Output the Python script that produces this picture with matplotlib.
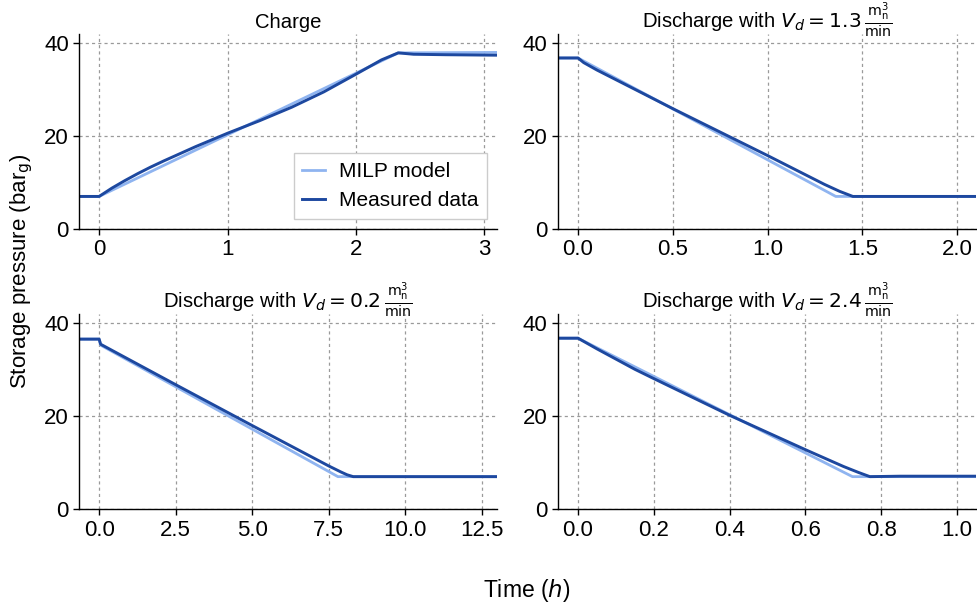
import matplotlib
matplotlib.use("Agg")
import matplotlib.pyplot as plt

plt.rcParams["font.family"] = ["Liberation Sans", "DejaVu Sans"]
plt.rcParams["mathtext.fontset"] = "dejavusans"

MODEL_COLOR = "#8fb4f0"
MEAS_COLOR = "#1d489f"

# Charging run
charge_t_model = [-0.155, 0.0, 2.33, 3.1]
charge_p_model = [7.0, 7.0, 37.9, 38.0]
charge_t_meas = [-0.155, 0.0, 0.05, 0.1, 0.2, 0.3, 0.4, 0.5, 0.75, 1.0, 1.25,
                 1.5, 1.75, 2.0, 2.2, 2.33, 2.45, 2.7, 3.1]
charge_p_meas = [7.0, 7.0, 7.9, 8.8, 10.4, 11.9, 13.3, 14.6, 17.7, 20.6, 23.3,
                 26.2, 29.5, 33.3, 36.4, 37.9, 37.6, 37.5, 37.4]

# Discharge, V_d = 1.3
d13_t_model = [-0.105, 0.0, 1.36, 2.1]
d13_p_model = [36.8, 36.8, 7.0, 7.0]
d13_t_meas = [-0.105, 0.0, 0.03, 0.1, 0.5, 1.0, 1.3, 1.38, 1.45, 1.6, 2.1]
d13_p_meas = [36.8, 36.8, 35.8, 34.2, 25.9, 15.8, 9.6, 8.1, 7.0, 7.0, 7.0]

# Discharge, V_d = 0.2
d02_t_model = [-0.65, 0.0, 0.05, 7.8, 13.0]
d02_p_model = [36.6, 36.6, 35.3, 7.0, 7.0]
d02_t_meas = [-0.65, 0.0, 0.05, 2.5, 5.0, 7.5, 7.9, 8.1, 8.3, 9.0, 13.0]
d02_p_meas = [36.6, 36.6, 35.5, 26.8, 18.0, 9.3, 8.0, 7.4, 7.0, 7.0, 7.0]

# Discharge, V_d = 2.4
d24_t_model = [-0.0525, 0.0, 0.724, 1.05]
d24_p_model = [36.8, 36.8, 7.0, 7.0]
d24_t_meas = [-0.0525, 0.0, 0.05, 0.1, 0.15, 0.2, 0.4, 0.6, 0.7, 0.74, 0.77, 0.85, 1.05]
d24_p_meas = [36.8, 36.8, 34.5, 32.3, 30.1, 28.1, 20.2, 12.8, 9.2, 7.9, 7.0, 7.1, 7.1]

unit = r"\frac{\mathrm{m}_\mathrm{n}^3}{\mathrm{min}}"
titles = [
    "Charge",
    r"Discharge with $V_d = 1.3\,%s$" % unit,
    r"Discharge with $V_d = 0.2\,%s$" % unit,
    r"Discharge with $V_d = 2.4\,%s$" % unit,
]
runs = [
    (charge_t_model, charge_p_model, charge_t_meas, charge_p_meas, 3.1, [0, 1, 2, 3]),
    (d13_t_model, d13_p_model, d13_t_meas, d13_p_meas, 2.1, [0.0, 0.5, 1.0, 1.5, 2.0]),
    (d02_t_model, d02_p_model, d02_t_meas, d02_p_meas, 13.0, [0.0, 2.5, 5.0, 7.5, 10.0, 12.5]),
    (d24_t_model, d24_p_model, d24_t_meas, d24_p_meas, 1.05, [0.0, 0.2, 0.4, 0.6, 0.8, 1.0]),
]
tick_fmt = ["%d", "%.1f", "%.1f", "%.1f"]

fig, axes = plt.subplots(2, 2, figsize=(9.78, 6.04), dpi=100)
fig.subplots_adjust(left=0.081, right=0.998, bottom=0.157, top=0.944,
                    wspace=0.146, hspace=0.436)

for ax, title, run, fmt in zip(axes.flat, titles, runs, tick_fmt):
    t_mod, p_mod, t_meas, p_meas, t_end, xt = run
    ax.plot(t_mod, p_mod, color=MODEL_COLOR, lw=2, label="MILP model")
    ax.plot(t_meas, p_meas, color=MEAS_COLOR, lw=2.1, label="Measured data")
    ax.set_xlim(-0.05 * t_end, t_end)
    ax.set_ylim(0, 42)
    ax.set_xticks(xt)
    ax.set_xticklabels([fmt % v for v in xt])
    ax.set_yticks([0, 20, 40])
    if "$" in title:
        # the fraction hangs below the text, let it dip to the frame top
        ax.text(0.5, 1.029, title, transform=ax.transAxes, ha="center",
                va="baseline", fontsize=14.6)
    else:
        ax.set_title(title, fontsize=14.6, pad=4)
    ax.tick_params(labelsize=16, length=4, width=1)
    ax.grid(True, color="#9a9a9a", linestyle=(0, (2.5, 2.5)), linewidth=0.9)
    ax.set_axisbelow(True)
    for side in ("top", "right"):
        ax.spines[side].set_visible(False)
    for side in ("left", "bottom"):
        ax.spines[side].set_linewidth(1.0)

leg = axes[0, 0].legend(loc="lower right", fontsize=15, fancybox=False,
                        edgecolor="#cccccc", framealpha=1,
                        handlelength=1.1, handletextpad=0.65)
leg.get_frame().set_linewidth(1.0)

fig.text(0.022, 0.55, r"Storage pressure (bar$_\mathrm{g}$)", rotation=90,
         ha="center", va="center", fontsize=16)
fig.text(0.539, 0.023, r"Time ($h$)", ha="center", va="center", fontsize=16.5)

fig.savefig("out.png", dpi=100)
